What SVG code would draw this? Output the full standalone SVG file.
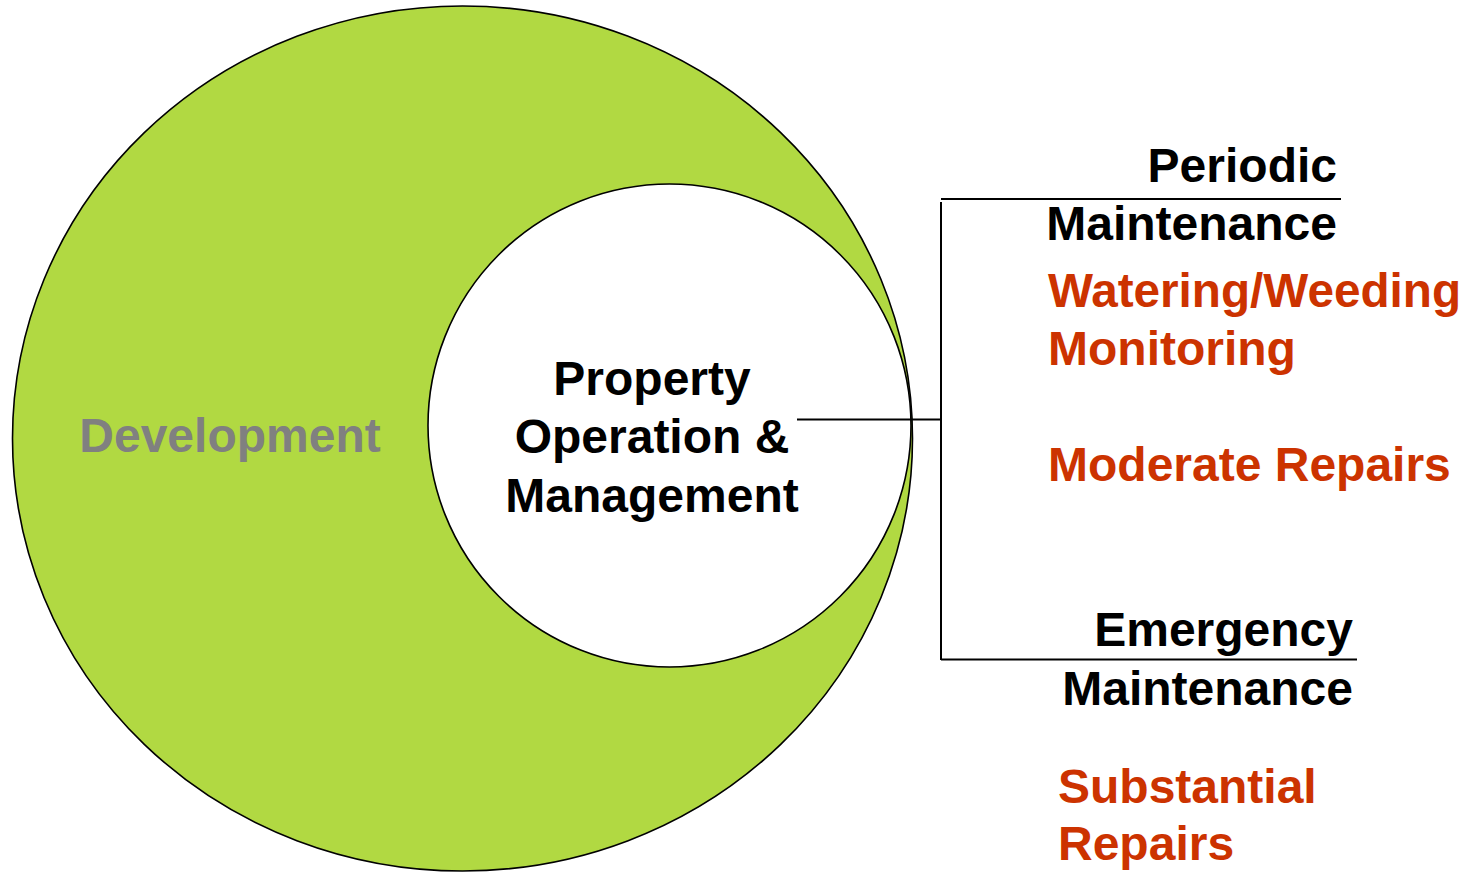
<svg xmlns="http://www.w3.org/2000/svg" width="1479" height="872" viewBox="0 0 1479 872">
  <style>
    text { font-family: "Liberation Sans", Arial, sans-serif; font-weight: bold; font-size: 48px; }
    .dark { fill: #000000; }
    .task { fill: #CC3300; }
    .muted { fill: #808080; }
    .wire { stroke: #000000; stroke-width: 2; fill: none; }
  </style>
  <rect width="1479" height="872" fill="#ffffff"/>

  <!-- outer ring: development -->
  <g id="development">
    <ellipse cx="462.5" cy="438.5" rx="450" ry="432.5" fill="#B1D942" stroke="#000000" stroke-width="1.6"/>
    <text class="muted" x="230" y="452" text-anchor="middle" font-size="47">Development</text>
  </g>

  <!-- inner disc: property operation and management -->
  <g id="property-operation">
    <circle cx="669.5" cy="425.5" r="241.5" fill="#ffffff" stroke="#000000" stroke-width="1.6"/>
    <text class="dark" x="652" y="395" text-anchor="middle">Property</text>
    <text class="dark" x="652" y="453" text-anchor="middle">Operation &amp;</text>
    <text class="dark" x="652" y="512" text-anchor="middle">Management</text>
  </g>

  <!-- bracket connecting the disc to the maintenance types -->
  <g id="connectors">
    <line class="wire" x1="797" y1="419.5" x2="941" y2="419.5"/>
    <line class="wire" x1="941" y1="202" x2="941" y2="660"/>
    <line class="wire" x1="941" y1="199" x2="1341" y2="199"/>
    <line class="wire" x1="941" y1="659.5" x2="1357" y2="659.5"/>
  </g>

  <g id="periodic-maintenance">
    <text class="dark" x="1337" y="182" text-anchor="end">Periodic</text>
    <text class="dark" x="1337" y="240" text-anchor="end">Maintenance</text>
    <text class="task" x="1048" y="307" textLength="413" lengthAdjust="spacingAndGlyphs">Watering/Weeding</text>
    <text class="task" x="1048" y="365">Monitoring</text>
    <text class="task" x="1048" y="481">Moderate Repairs</text>
  </g>

  <g id="emergency-maintenance">
    <text class="dark" x="1353" y="646" text-anchor="end">Emergency</text>
    <text class="dark" x="1353" y="705" text-anchor="end">Maintenance</text>
    <text class="task" x="1058" y="803">Substantial</text>
    <text class="task" x="1058" y="860">Repairs</text>
  </g>
</svg>
